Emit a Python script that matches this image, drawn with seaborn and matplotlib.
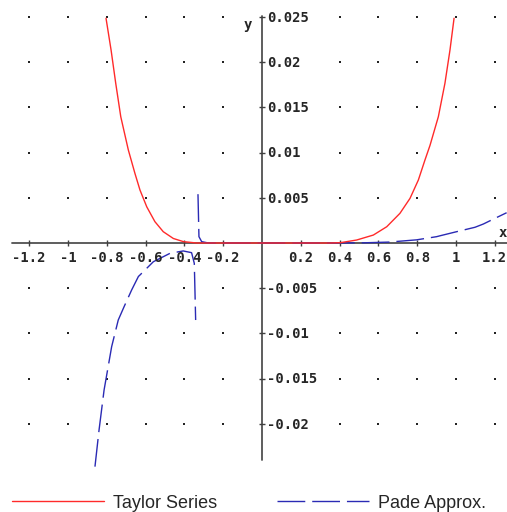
import pandas as pd
import matplotlib
matplotlib.use("Agg")
import matplotlib.pyplot as plt
import seaborn as sns
from matplotlib.lines import Line2D

# Taylor series error curve
taylor_x = [-0.804, -0.778, -0.754, -0.728, -0.689, -0.655, -0.629, -0.594, -0.552, -0.509,
            -0.457, -0.405, -0.337, -0.2, 0.0, 0.2, 0.35, 0.402, 0.488, 0.574, 0.643, 0.711,
            0.763, 0.806, 0.840, 0.866, 0.909, 0.943, 0.969, 0.990]
taylor_y = [0.02486, 0.02135, 0.01767, 0.01397, 0.01029, 0.0077, 0.00586, 0.0040, 0.00236, 0.00125,
            0.0005, 0.00015, 0.0, 0.0, 0.0, 0.0, 0.0, 0.00003, 0.00033, 0.00088, 0.0018, 0.00328,
            0.00494, 0.00697, 0.00918, 0.0108, 0.01397, 0.01767, 0.02135, 0.02486]

# Pade approximation error, left of the pole
pade_left_x = [-0.861, -0.840, -0.814, -0.775, -0.741, -0.711, -0.672, -0.637, -0.629, -0.560,
               -0.474, -0.406, -0.363, -0.349, -0.342]
pade_left_y = [-0.02474, -0.02069, -0.01626, -0.01147, -0.00852, -0.00705, -0.0052, -0.0037,
               -0.00354, -0.00207, -0.00114, -0.00088, -0.00107, -0.00225, -0.00852]

# Pade approximation error, right of the pole
pade_right_x = [-0.330, -0.325, -0.311, -0.276, 0.0, 0.35, 0.522, 0.655, 0.797, 0.900, 0.918,
                1.003, 1.098, 1.141, 1.201, 1.261]
pade_right_y = [0.0054, 0.0007, 0.00015, 0.0, 0.0, 0.0, 0.00002, 0.0001, 0.00035, 0.0007, 0.0008,
                0.00125, 0.00174, 0.0021, 0.00273, 0.00335]

x_ticks = [-1.2, -1.0, -0.8, -0.6, -0.4, -0.2, 0.2, 0.4, 0.6, 0.8, 1.0, 1.2]
x_tick_labels = ["-1.2", "-1", "-0.8", "-0.6", "-0.4", "-0.2", "0.2", "0.4", "0.6", "0.8", "1", "1.2"]
y_ticks = [0.025, 0.02, 0.015, 0.01, 0.005, -0.005, -0.01, -0.015, -0.02]
y_tick_labels = ["0.025", "0.02", "0.015", "0.01", "0.005", "-0.005", "-0.01", "-0.015", "-0.02"]

red = "#ff2a2a"
blue = "#2a2ab4"
pade_ls = (0, (20, 5))

taylor_df = pd.DataFrame({"x": taylor_x, "y": taylor_y})
pade_df = pd.concat([
    pd.DataFrame({"x": pade_left_x, "y": pade_left_y, "branch": 0}),
    pd.DataFrame({"x": pade_right_x, "y": pade_right_y, "branch": 1}),
])

sns.set_style("white")
fig = plt.figure(figsize=(5.07, 5.12), dpi=100)
ax = fig.add_axes([0, 0, 1, 1])
ax.set_xlim(-262 / 194, 245 / 194)
ax.set_ylim(-269 / 9040, 243 / 9040)

# axes through the origin
ax.plot([-1.289, 1.27], [0, 0], color="#505050", lw=1.3, zorder=1)
ax.plot([0, 0], [-0.024, 0.0251], color="#505050", lw=1.3, zorder=1)
ax.plot(x_ticks, [0] * len(x_ticks), ls="", marker="|", ms=5, mew=1, color="#404040", zorder=1)
ax.plot([0] * len(y_ticks), y_ticks, ls="", marker="_", ms=5, mew=1, color="#404040", zorder=1)

# dotted grid (the 0.2 column sits under the y labels)
dot_cols = [x for x in x_ticks if x != 0.2]
gx = [x for x in dot_cols for _ in y_ticks]
gy = [y for _ in dot_cols for y in y_ticks]
ax.scatter(gx, gy, s=1.2, color="#222222", marker="s", linewidths=0, zorder=1)

mono = dict(family="DejaVu Sans Mono", weight="bold", fontsize=10)
for xv, lab in zip(x_ticks, x_tick_labels):
    ax.text(xv, -0.0021, lab, ha="center", va="baseline", **mono)
for yv, lab in zip(y_ticks, y_tick_labels):
    ax.text(5 / 194, yv - 0.00052, lab, ha="left", va="baseline", **mono)
ax.text(-0.072, 0.0241, "y", ha="center", va="center", **mono)
ax.text(1.242, 0.0011, "x", ha="center", va="center", **mono)

sns.lineplot(data=pade_df, x="x", y="y", units="branch", estimator=None, sort=False,
             color=blue, lw=1, linestyle=pade_ls, ax=ax, zorder=2)
sns.lineplot(data=taylor_df, x="x", y="y", estimator=None, sort=False,
             color=red, lw=1, ax=ax, zorder=3)
ax.axis("off")

handles = [Line2D([], [], color=red, lw=1),
           Line2D([], [], color=blue, lw=1, linestyle=pade_ls)]
fig.legend(handles, ["Taylor Series", "Pade Approx."], loc="center left",
           bbox_to_anchor=(12 / 507, 1 - 503 / 512), ncol=2, frameon=False,
           handlelength=5.1, handletextpad=0.5, columnspacing=3.3,
           borderpad=0, borderaxespad=0,
           prop=dict(family="Liberation Sans", size=13))

plt.savefig("out.png", dpi=100)
